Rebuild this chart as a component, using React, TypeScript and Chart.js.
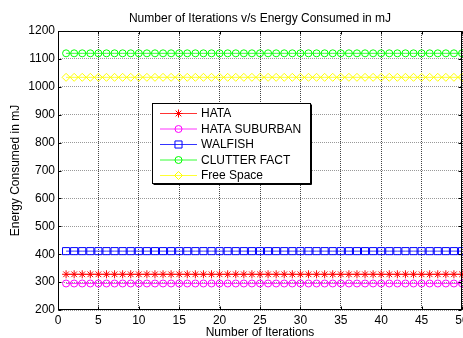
import React, { useEffect, useRef } from "react";
import { Chart, registerables } from "chart.js";
import { drawPoint } from "chart.js/helpers";

Chart.register(...registerables);

const chartTitle = "Number of Iterations v/s Energy Consumed in mJ";
const xAxisTitle = "Number of Iterations";
const yAxisTitle = "Energy Consumed in mJ";

const iterations = [
  1, 2, 3, 4, 5, 6, 7, 8, 9, 10, 11, 12, 13, 14, 15, 16, 17, 18, 19, 20, 21, 22, 23, 24, 25,
  26, 27, 28, 29, 30, 31, 32, 33, 34, 35, 36, 37, 38, 39, 40, 41, 42, 43, 44, 45, 46, 47, 48, 49, 50,
];

const hata = [
  328, 328, 328, 328, 328, 328, 328, 328, 328, 328, 328, 328, 328, 328, 328, 328, 328, 328, 328, 328, 328, 328, 328, 328, 328,
  328, 328, 328, 328, 328, 328, 328, 328, 328, 328, 328, 328, 328, 328, 328, 328, 328, 328, 328, 328, 328, 328, 328, 328, 328,
];
const hataSuburban = [
  295, 295, 295, 295, 295, 295, 295, 295, 295, 295, 295, 295, 295, 295, 295, 295, 295, 295, 295, 295, 295, 295, 295, 295, 295,
  295, 295, 295, 295, 295, 295, 295, 295, 295, 295, 295, 295, 295, 295, 295, 295, 295, 295, 295, 295, 295, 295, 295, 295, 295,
];
const walfish = [
  411, 411, 411, 411, 411, 411, 411, 411, 411, 411, 411, 411, 411, 411, 411, 411, 411, 411, 411, 411, 411, 411, 411, 411, 411,
  411, 411, 411, 411, 411, 411, 411, 411, 411, 411, 411, 411, 411, 411, 411, 411, 411, 411, 411, 411, 411, 411, 411, 411, 411,
];
const clutterFact = [
  1120, 1120, 1120, 1120, 1120, 1120, 1120, 1120, 1120, 1120, 1120, 1120, 1120, 1120, 1120, 1120, 1120, 1120, 1120, 1120, 1120, 1120, 1120, 1120, 1120,
  1120, 1120, 1120, 1120, 1120, 1120, 1120, 1120, 1120, 1120, 1120, 1120, 1120, 1120, 1120, 1120, 1120, 1120, 1120, 1120, 1120, 1120, 1120, 1120, 1120,
];
const freeSpace = [
  1034, 1034, 1034, 1034, 1034, 1034, 1034, 1034, 1034, 1034, 1034, 1034, 1034, 1034, 1034, 1034, 1034, 1034, 1034, 1034, 1034, 1034, 1034, 1034, 1034,
  1034, 1034, 1034, 1034, 1034, 1034, 1034, 1034, 1034, 1034, 1034, 1034, 1034, 1034, 1034, 1034, 1034, 1034, 1034, 1034, 1034, 1034, 1034, 1034, 1034,
];

const seriesNames = ["HATA", "HATA SUBURBAN", "WALFISH", "CLUTTER FACT", "Free Space"];
const seriesValues = [hata, hataSuburban, walfish, clutterFact, freeSpace];
const seriesColors = ["#ff0000", "#ff00ff", "#0000ff", "#00ff00", "#ffff00"];
const seriesMarkers = ["star", "circle", "rect", "circle", "rectRot"];
const seriesMarkerSizes = [4, 3.5, 5, 3.5, 4];

const FONT = "'Liberation Sans', Arial, Helvetica, sans-serif";

const framePlugin = {
  id: "frame",
  afterDatasetsDraw(chart: any) {
    const { ctx, chartArea, scales } = chart;
    const l = Math.round(chartArea.left) + 0.5;
    const t = Math.round(chartArea.top) + 0.5;
    const r = Math.round(chartArea.right) - 0.5;
    const b = Math.round(chartArea.bottom) - 0.5;
    ctx.save();
    ctx.strokeStyle = "#000";
    ctx.lineWidth = 1;
    ctx.setLineDash([]);
    ctx.strokeRect(l, t, r - l, b - t);
    ctx.beginPath();
    scales.x.ticks.forEach((tk: any) => {
      const x = Math.round(scales.x.getPixelForValue(tk.value)) + 0.5;
      ctx.moveTo(x, t);
      ctx.lineTo(x, t + 3);
      ctx.moveTo(x, b);
      ctx.lineTo(x, b - 3);
    });
    scales.y.ticks.forEach((tk: any) => {
      const y = Math.round(scales.y.getPixelForValue(tk.value)) + 0.5;
      ctx.moveTo(l, y);
      ctx.lineTo(l + 3, y);
      ctx.moveTo(r, y);
      ctx.lineTo(r - 3, y);
    });
    ctx.stroke();
    ctx.restore();
  },
};

const boxLegendPlugin = {
  id: "boxLegend",
  afterDraw(chart: any) {
    const { ctx } = chart;
    const x0 = 152.5;
    const y0 = 103.5;
    const w = 158;
    const h = 80;
    ctx.save();
    ctx.fillStyle = "#fff";
    ctx.fillRect(x0, y0, w, h);
    ctx.strokeStyle = "#000";
    ctx.lineWidth = 1;
    ctx.setLineDash([]);
    ctx.strokeRect(x0, y0, w, h);
    ctx.beginPath();
    ctx.moveTo(x0 + w + 1, y0 + 1);
    ctx.lineTo(x0 + w + 1, y0 + h + 1);
    ctx.lineTo(x0 + 1, y0 + h + 1);
    ctx.stroke();
    ctx.font = `12px ${FONT}`;
    ctx.textBaseline = "middle";
    ctx.textAlign = "left";
    chart.data.datasets.forEach((ds: any, i: number) => {
      const y = 113.5 + i * 15.5;
      ctx.strokeStyle = ds.borderColor;
      ctx.lineWidth = 0.8;
      ctx.beginPath();
      ctx.moveTo(160, y);
      ctx.lineTo(197, y);
      ctx.stroke();
      ctx.lineWidth = 1;
      ctx.fillStyle = "rgba(0,0,0,0)";
      drawPoint(
        ctx,
        { pointStyle: ds.pointStyle, radius: ds.pointRadius, borderWidth: 1, rotation: 0 } as any,
        178.5,
        y
      );
      ctx.fillStyle = "#000";
      ctx.fillText(ds.label, 201, y + 0.5);
    });
    ctx.restore();
  },
};

export default function App() {
  const ref = useRef<HTMLCanvasElement>(null);

  useEffect(() => {
    document.body.style.margin = "0";
    const canvas = ref.current!;
    const datasets = seriesNames.map((name, i) => ({
      label: name,
      data: iterations.map((x, j) => ({ x, y: seriesValues[i][j] })),
      borderColor: seriesColors[i],
      backgroundColor: "rgba(0,0,0,0)",
      borderWidth: 0.8,
      pointStyle: seriesMarkers[i],
      pointRadius: seriesMarkerSizes[i],
      pointBorderColor: seriesColors[i],
      pointBackgroundColor: "rgba(0,0,0,0)",
      pointBorderWidth: 1,
      tension: 0,
      clip: false as any,
    }));

    const chart = new Chart(canvas, {
      type: "line",
      data: { datasets },
      options: {
        responsive: false,
        animation: false,
        devicePixelRatio: 1,
        layout: { autoPadding: false, padding: { left: 0, right: 1, top: 0, bottom: 0 } },
        plugins: {
          legend: { display: false },
          tooltip: { enabled: false },
          title: {
            display: true,
            text: chartTitle,
            fullSize: false,
            color: "#000",
            font: { family: FONT, size: 12, weight: "normal" },
            padding: { top: 11, bottom: 5.6 },
          },
        },
        scales: {
          x: {
            type: "linear",
            min: 0,
            max: 50,
            ticks: {
              stepSize: 5,
              color: "#000",
              font: { family: FONT, size: 12 },
              padding: 3,
              maxRotation: 0,
              callback: (v: any) => String(v),
            },
            grid: { color: "#444", drawTicks: false, lineWidth: 1 },
            border: { display: false, dash: [1, 1] },
            title: {
              display: true,
              text: xAxisTitle,
              color: "#000",
              font: { family: FONT, size: 12 },
              padding: { top: 0, bottom: -1.5 },
            },
            afterFit(scale: any) {
              scale.height = 28;
              scale.paddingLeft = 0;
              scale.paddingRight = 0;
            },
          },
          y: {
            type: "linear",
            min: 200,
            max: 1200,
            ticks: {
              stepSize: 100,
              color: "#000",
              font: { family: FONT, size: 12 },
              padding: 3,
              callback: (v: any) => String(v),
            },
            grid: { color: "#999", drawTicks: false, lineWidth: 1 },
            border: { display: false, dash: [1, 1] },
            title: {
              display: true,
              text: yAxisTitle,
              color: "#000",
              font: { family: FONT, size: 12 },
              padding: { top: 8, bottom: 0 },
            },
            afterFit(scale: any) {
              scale.width = 58;
              scale.paddingTop = 0;
              scale.paddingBottom = 0;
            },
          },
        },
      },
      plugins: [framePlugin, boxLegendPlugin],
    });
    return () => chart.destroy();
  }, []);

  return (
    <div style={{ position: "absolute", left: 0, top: 0, width: 463, height: 338, background: "#fff" }}>
      <canvas ref={ref} width={463} height={338} style={{ display: "block", width: 463, height: 338 }} />
    </div>
  );
}
